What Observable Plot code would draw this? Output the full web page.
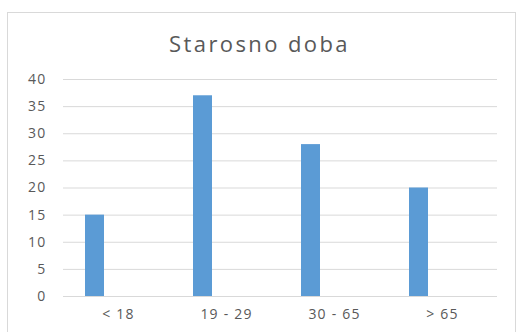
<!DOCTYPE html>
<html>
<head>
<meta charset="utf-8">
<script src="https://cdn.jsdelivr.net/npm/d3@7"></script>
<script src="https://cdn.jsdelivr.net/npm/@observablehq/plot@0.6"></script>
<style>
  html, body { margin: 0; padding: 0; background: #fff; }
  #wrap { position: relative; width: 519px; height: 332px; overflow: hidden; }
  #border { position: absolute; left: 7px; top: 12px; width: 509px; height: 340px; border: 1px solid #d9d9d9; box-sizing: border-box; }
  #chart { position: absolute; left: 0; top: 0; }
  #chart svg text { letter-spacing: 1.2px; }
  #title {
    position: absolute; left: 0; width: 519px; top: 28px;
    text-align: center; font-family: 'Open Sans', sans-serif;
    font-size: 22px; line-height: 30px; letter-spacing: 2.4px;
    color: #595959;
  }
</style>
</head>
<body>
<div id="wrap">
  <div id="border"></div>
  <div id="chart"></div>
  <div id="title"></div>
</div>
<script>
// Age groups and counts
const title = "Starosno doba";
const categories = ["< 18", "19 - 29", "30 - 65", "> 65"];
const values = [15, 37, 28, 20];
const yTicks = [0, 5, 10, 15, 20, 25, 30, 35, 40];

const data = categories.map((c, i) => ({ category: c, value: values[i] }));

const textColor = "#595959";
const font = "'Open Sans', sans-serif";

document.getElementById("title").textContent = title;

const chart = Plot.plot({
  width: 519,
  height: 332,
  marginLeft: 63,
  marginRight: 22,
  marginTop: 79,
  marginBottom: 36,
  style: { fontFamily: font, fontSize: "14px", color: textColor, background: "transparent" },
  x: { domain: categories, padding: 0, label: null },
  y: { domain: [0, 40], label: null },
  marks: [
    Plot.gridY(yTicks, { stroke: "#d9d9d9", strokeOpacity: 1, strokeWidth: 1 }),
    Plot.barY(data, {
      x: "category",
      y: "value",
      fill: "#5b9bd5",
      insetLeft: 21,
      insetRight: 68
    }),
    Plot.axisY(yTicks, { tickSize: 0, tickPadding: 17, fill: textColor, fontSize: 14, label: null }),
    Plot.axisX({ tickSize: 0, tickPadding: 13, fill: textColor, fontSize: 14, label: null })
  ]
});

document.getElementById("chart").appendChild(chart);
</script>
</body>
</html>
